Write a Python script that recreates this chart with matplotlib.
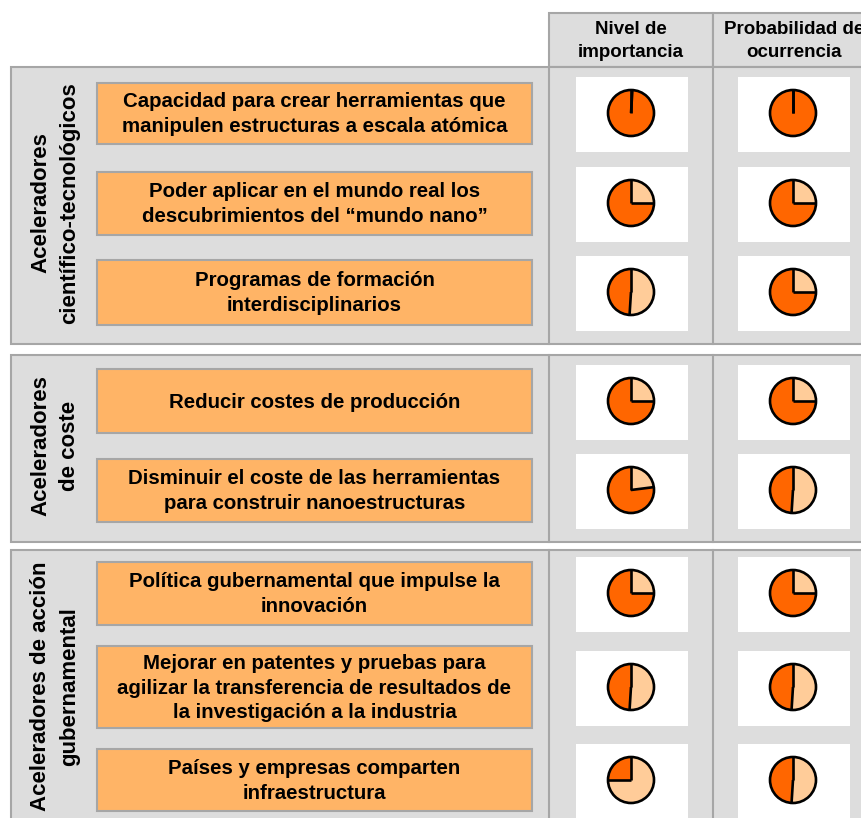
import matplotlib
matplotlib.use("Agg")
import matplotlib.pyplot as plt
from matplotlib.patches import Rectangle, Wedge, Circle
import numpy as np

plt.rcParams['font.family'] = ['Liberation Sans', 'DejaVu Sans']
plt.rcParams['font.weight'] = 'bold'

# --- data ---
headers = ["Nivel de\nimportancia", "Probabilidad de\nocurrencia"]
groups = ["Aceleradores\ncientífico-tecnológicos",
          "Aceleradores\nde coste",
          "Aceleradores de acción\ngubernamental"]
items = [
    ["Capacidad para crear herramientas que\nmanipulen estructuras a escala atómica",
     "Poder aplicar en el mundo real los\ndescubrimientos del “mundo nano”",
     "Programas de formación\ninterdisciplinarios"],
    ["Reducir costes de producción",
     "Disminuir el coste de las herramientas\npara construir nanoestructuras"],
    ["Política gubernamental que impulse la\ninnovación",
     "Mejorar en patentes y pruebas para\nagilizar la transferencia de resultados de\nla investigación a la industria",
     "Países y empresas comparten\ninfraestructura"],
]
# share of the ball that is filled (dark orange)
importancia = [[0.99, 0.75, 0.49], [0.75, 0.77], [0.75, 0.49, 0.25]]
probabilidad = [[1.0, 0.75, 0.75], [0.75, 0.49], [0.75, 0.49, 0.49]]

# --- layout (pixels) ---
W, H = 862, 818
panel_y = [(67, 344), (355, 542), (550, 830)]
row_y = [[113, 203, 292], [401, 490], [593, 687, 780]]
box_h = [[61, 63, 65], [64, 63], [63, 82, 62]]
col_x = [631, 793]
col_edges = [549, 713, 875]
box_x0, box_x1 = 97, 532

GRAY = "#DDDDDD"
EDGE = "#A6A6A6"
ORANGE = "#FFB466"
DARK = "#FF6600"
LIGHT = "#FFCC99"

fig = plt.figure(figsize=(W / 100, H / 100), dpi=100)
ax = fig.add_axes([0, 0, 1, 1])
ax.set_xlim(0, W)
ax.set_ylim(H, 0)
ax.axis('off')

# header cells
for i, h in enumerate(headers):
    x0, x1 = col_edges[i], col_edges[i + 1]
    ax.add_patch(Rectangle((x0, 13), x1 - x0, 54, fc=GRAY, ec=EDGE, lw=1.5))
    ax.text((x0 + x1) / 2, 41, h, ha='center', va='center', fontsize=13.5,
            linespacing=1.45, clip_on=True)


def harvey(cx, cy, frac, r=23):
    # screen angles: filled part starts at 12 o'clock, goes counter-clockwise
    a = 360 * frac
    ax.add_patch(Wedge((cx, cy), r, -90 - a, -90, fc=DARK, ec='none'))
    if frac < 1:
        ax.add_patch(Wedge((cx, cy), r, -450, -90 - a, fc=LIGHT, ec='none'))
    for t in (-90, -90 - a):
        th = np.deg2rad(t)
        ax.plot([cx, cx + r * np.cos(th)], [cy, cy + r * np.sin(th)],
                color='black', lw=1.9, solid_capstyle='butt')
    ax.add_patch(Circle((cx, cy), r, fc='none', ec='black', lw=1.9))


for g, label in enumerate(groups):
    y0, y1 = panel_y[g]
    ax.add_patch(Rectangle((11, y0), W + 20 - 11, y1 - y0, fc=GRAY, ec=EDGE, lw=1.5))
    for xe in col_edges[:2]:
        ax.plot([xe, xe], [y0, y1], color=EDGE, lw=1.5)
    ax.text(55, np.mean(row_y[g]), label, rotation=90, ha='center', va='center',
            fontsize=16, linespacing=1.5)
    for r, txt in enumerate(items[g]):
        cy = row_y[g][r]
        bh = box_h[g][r]
        ax.add_patch(Rectangle((box_x0, cy - bh / 2), box_x1 - box_x0, bh,
                               fc=ORANGE, ec=EDGE, lw=1.5))
        ax.text((box_x0 + box_x1) / 2, cy + 1, txt, ha='center', va='center',
                fontsize=14.7, linespacing=1.38)
        for c, vals in enumerate([importancia, probabilidad]):
            cx = col_x[c]
            ax.add_patch(Rectangle((cx - 55, cy - 36), 112, 75, fc='white', ec='none'))
            harvey(cx, cy, vals[g][r])

fig.savefig("out.png", dpi=100)
